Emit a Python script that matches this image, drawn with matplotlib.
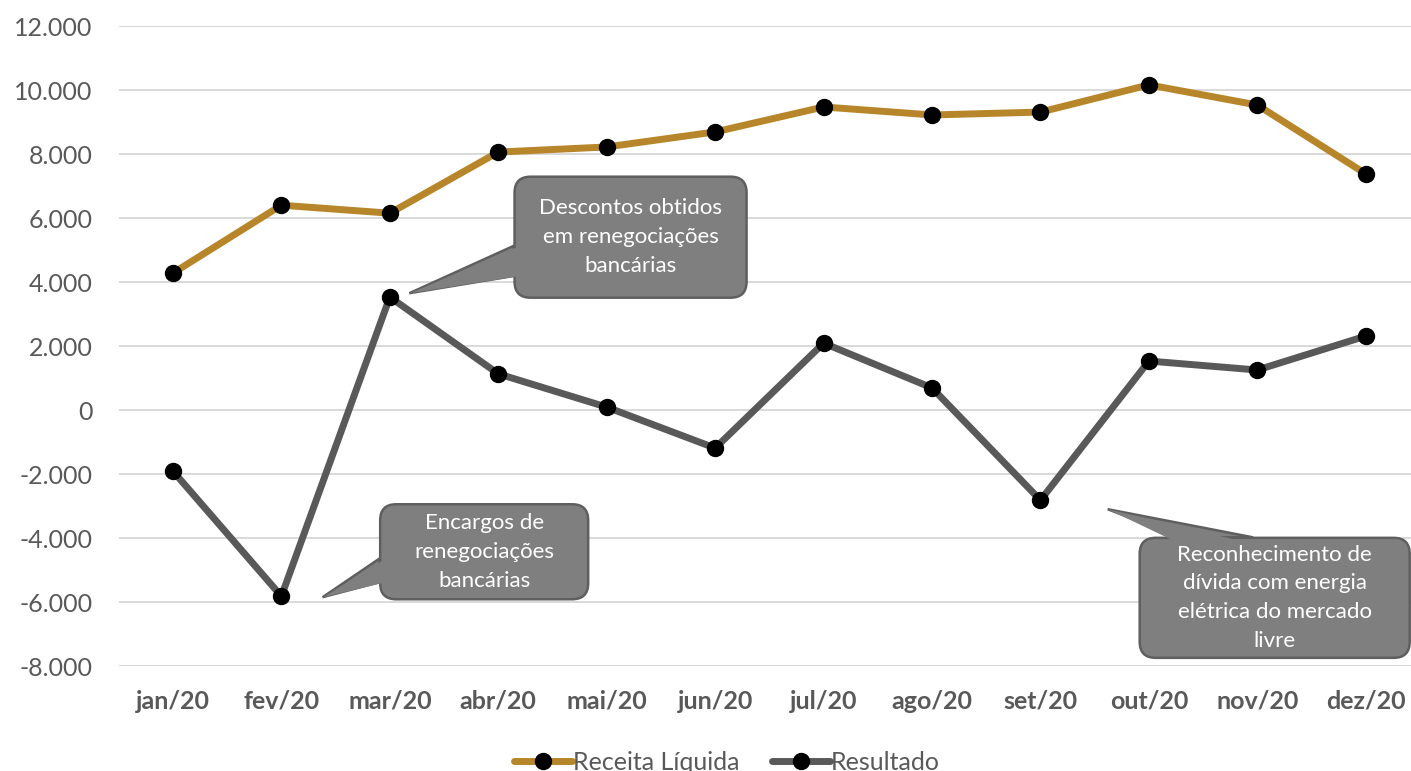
import matplotlib.pyplot as plt
from matplotlib.patches import FancyBboxPatch, Polygon

plt.rcParams['font.family'] = ['Lato', 'DejaVu Sans']

meses = ["jan/20", "fev/20", "mar/20", "abr/20", "mai/20", "jun/20",
         "jul/20", "ago/20", "set/20", "out/20", "nov/20", "dez/20"]
receita = [4280, 6400, 6150, 8060, 8220, 8690, 9470, 9220, 9310, 10160, 9530, 7380]
resultado = [-1910, -5820, 3530, 1130, 90, -1190, 2090, 690, -2820, 1530, 1250, 2310]

# callouts: text, box centre (data), box size (px), tip (data), wedge base side
callouts = [
    ("Descontos obtidos\nem renegociações\nbancárias", (4.22, 5400), (232, 121), (2.18, 3650), "left"),
    ("Encargos de\nrenegociações\nbancárias", (2.87, -4430), (208, 95), (1.38, -5850), "left"),
    ("Reconhecimento de\ndívida com energia\nelétrica do mercado\nlivre", (10.16, -5870), (270, 120), (8.62, -3100), "top"),
]

gold = "#B8862A"
dgray = "#595959"
txt = "#595959"

W, H = 1411, 771
fig = plt.figure(figsize=(W / 100, H / 100), dpi=100)
ax = fig.add_axes([118.75 / W, 105 / H, (1420 - 118.75) / W, 640 / H])

x = list(range(len(meses)))
ax.plot(x, receita, color=gold, lw=5, marker="o", ms=11.5, mfc="black", mec="black",
        label="Receita Líquida", zorder=3, solid_capstyle="round")
ax.plot(x, resultado, color=dgray, lw=5, marker="o", ms=11.5, mfc="black", mec="black",
        label="Resultado", zorder=3, solid_capstyle="round")

ax.set_xlim(-0.5, 11.5)
ax.set_ylim(-8000, 12000)
ax.set_yticks(range(-8000, 12001, 2000))
ax.set_yticklabels([f"{v:,}".replace(",", ".") for v in range(-8000, 12001, 2000)])
ax.set_xticks(x)
ax.set_xticklabels(meses, fontweight="bold")
ax.tick_params(axis="both", length=0, labelsize=18, labelcolor=txt)
ax.tick_params(axis="x", pad=17)
ax.tick_params(axis="y", pad=19)
ax.grid(axis="y", color="#d9d9d9", lw=1.4)
ax.set_axisbelow(True)
for s in ax.spines.values():
    s.set_visible(False)

# draw callouts in pixel space
trans = ax.transData
face = "#7f7f7f"
edge = "#5f5f5f"
for text, centre, size, tip, side in callouts:
    cx, cy = trans.transform(centre)
    tx, ty = trans.transform(tip)
    bw, bh = size
    x0, y0 = cx - bw / 2, cy - bh / 2
    if side == "left":
        base = [(x0 + 6, cy - 0.07 * bh), (x0 + 6, cy - 0.32 * bh)]
        wb = [(x0 - 0.5, cy - 0.07 * bh), (x0 - 0.5, cy - 0.32 * bh)]
    else:
        base = [(x0 + 0.15 * bw, y0 + bh - 6), (x0 + 0.42 * bw, y0 + bh - 6)]
        wb = [(x0 + 0.15 * bw, y0 + bh + 0.5), (x0 + 0.42 * bw, y0 + bh + 0.5)]
    w1 = Polygon([(tx, ty)] + wb, closed=True, fc=face, ec=edge, lw=1.8,
                 transform=None, zorder=5)
    box = FancyBboxPatch((x0, y0), bw, bh, boxstyle="round,pad=0,rounding_size=16",
                         fc=face, ec=edge, lw=1.8, transform=None, zorder=6)
    w2 = Polygon([(tx + (1 if side == "left" else 0), ty)] + base, closed=True,
                 fc=face, ec="none", transform=None, zorder=7)
    fig.add_artist(w1)
    fig.add_artist(box)
    fig.add_artist(w2)
    fig.text(cx / W, cy / H, text, color="white", fontsize=16, ha="center",
             va="center", linespacing=1.55, zorder=8)

leg = fig.legend(loc="center", bbox_to_anchor=(727 / W, 1 - 762 / H), ncol=2,
                 frameon=False, fontsize=18, handlelength=2.3, handletextpad=0.05,
                 columnspacing=1.3, labelcolor=txt)

fig.savefig("out.png", dpi=100)
